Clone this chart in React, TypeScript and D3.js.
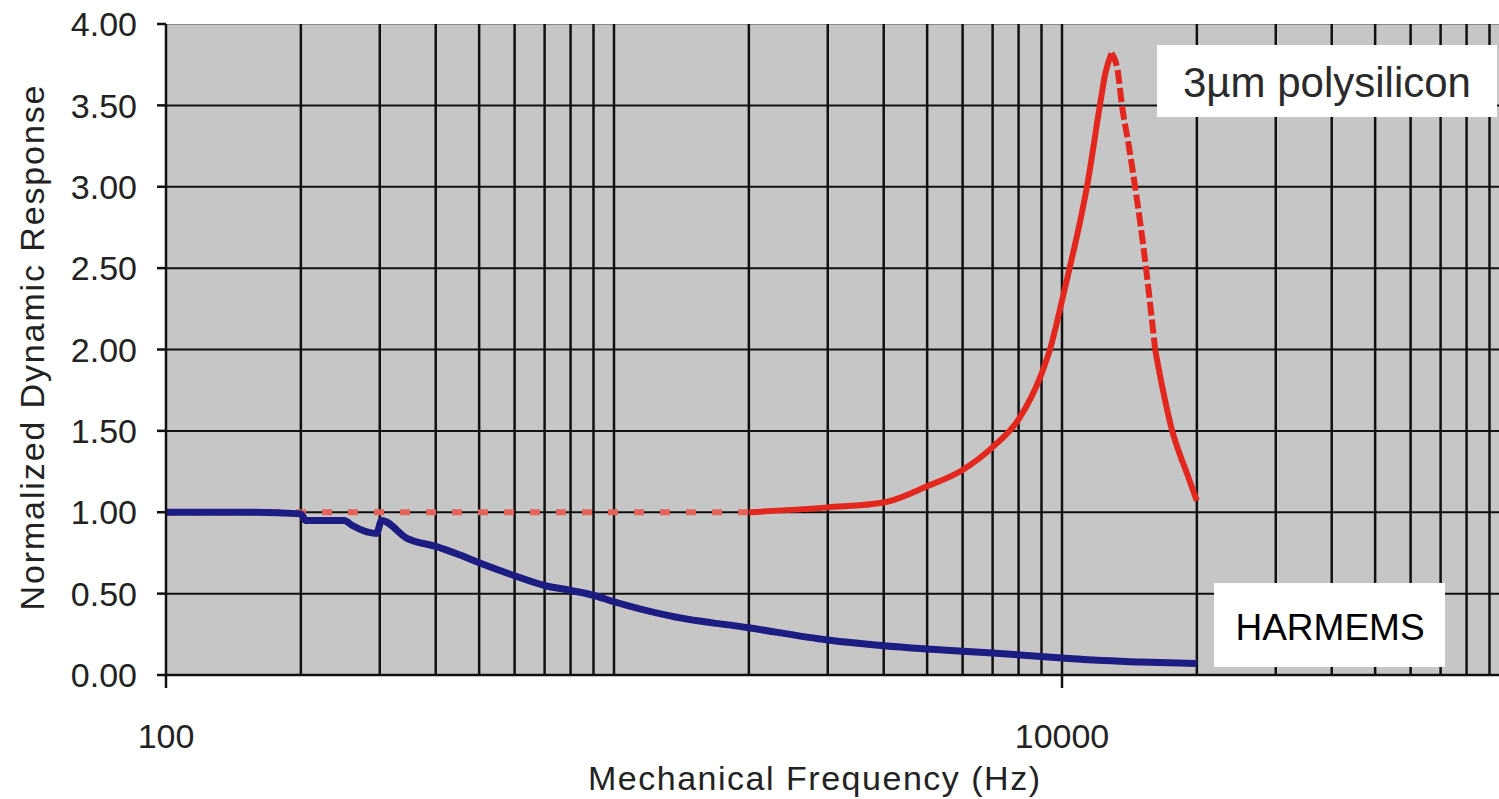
import React from "react";
import * as d3 from "d3";

// 3um polysilicon response (red)
const polyFreq = [100, 200, 500, 1000, 2000, 3000, 4000, 5000, 6000, 7000, 8000, 9000, 9400, 10000, 10400, 11000, 11370, 12150, 12500, 12900, 13300, 13610, 14100, 14560, 15000, 15400, 16140, 16800, 17620, 18300, 19000, 20000];
const polyResp = [1.0, 1.0, 1.0, 1.0, 1.0, 1.03, 1.06, 1.16, 1.26, 1.4, 1.57, 1.85, 2.0, 2.3, 2.5, 2.8, 3.0, 3.5, 3.7, 3.82, 3.72, 3.5, 3.25, 3.0, 2.75, 2.5, 2.0, 1.75, 1.5, 1.36, 1.24, 1.07];

// HARMEMS response (blue)
const harmFreq = [100, 150, 200, 205, 250, 260, 295, 303, 345, 400, 450, 500, 600, 700, 800, 900, 1000, 1350, 2000, 3000, 4000, 5000, 7000, 10000, 12000, 15000, 20000];
const harmResp = [1.0, 1.0, 0.99, 0.95, 0.95, 0.92, 0.87, 0.95, 0.84, 0.79, 0.74, 0.69, 0.61, 0.55, 0.52, 0.49, 0.45, 0.36, 0.29, 0.215, 0.18, 0.16, 0.135, 0.105, 0.09, 0.08, 0.07];

const yTicks = [0, 0.5, 1, 1.5, 2, 2.5, 3, 3.5, 4];
const yTickLabels = ["0.00", "0.50", "1.00", "1.50", "2.00", "2.50", "3.00", "3.50", "4.00"];
const xTicks = [100, 10000];
const xTickLabels = ["100", "10000"];

const width = 1499;
const height = 799;
const left = 166;
const top = 24;
const bottom = 675;
const font = "'Liberation Sans', Arial, sans-serif";

export default function App() {
  const x = d3.scaleLog().domain([100, 100000]).range([left, 1510]);
  const y = d3.scaleLinear().domain([0, 4]).range([bottom, top]);

  const poly = polyFreq.map((f, i) => ({ f, v: polyResp[i] }));
  const harm = harmFreq.map((f, i) => ({ f, v: harmResp[i] }));

  const line = d3
    .line<{ f: number; v: number }>()
    .x((d) => x(d.f))
    .y((d) => y(d.v))
    .curve(d3.curveMonotoneX);

  // red drawn in pieces: sparse (dashed) flat part, solid rise, sparse fall, solid tail
  const i2000 = polyFreq.indexOf(2000);
  const iPeak = polyFreq.indexOf(12900);
  const iFall = polyFreq.indexOf(16140);
  const polySegs = [
    { pts: poly.slice(0, i2000 + 1), dash: "10 16", color: "#e4625a" },
    { pts: poly.slice(i2000, iPeak + 1), dash: null, color: "#e2281e" },
    { pts: poly.slice(iPeak, iFall + 1), dash: "14 4", color: "#e2281e" },
    { pts: poly.slice(iFall), dash: null, color: "#e2281e" },
  ];

  const grid = x.ticks().filter((t) => t > 100);

  return (
    <svg
      width={width}
      height={height}
      style={{ position: "absolute", left: 0, top: 0, background: "#fff" }}
      fontFamily={font}
    >
      <defs>
        <clipPath id="plotClip">
          <rect x={left} y={top} width={width - left} height={bottom - top} />
        </clipPath>
      </defs>

      {/* plot area */}
      <rect x={left} y={top} width={width - left} height={bottom - top} fill="#c6c6c6" />
      <line x1={left} x2={width} y1={top + 0.5} y2={top + 0.5} stroke="#8a8a8a" strokeWidth={1} />

      {/* gridlines */}
      {yTicks
        .filter((t) => t > 0 && t < 4)
        .map((t) => (
          <line key={"h" + t} x1={left} x2={width} y1={y(t)} y2={y(t)} stroke="#111" strokeWidth={2} />
        ))}
      {grid.map((t) => (
        <line key={"v" + t} x1={x(t)} x2={x(t)} y1={top} y2={bottom} stroke="#111" strokeWidth={2.5} />
      ))}

      {/* series */}
      <g clipPath="url(#plotClip)">
        {polySegs.map((s, i) => (
          <path
            key={"p" + i}
            d={line(s.pts) || ""}
            fill="none"
            stroke={s.color}
            strokeWidth={6}
            strokeDasharray={s.dash || undefined}
          />
        ))}
        <path d={line(harm) || ""} fill="none" stroke="#1c1c82" strokeWidth={7} />
      </g>

      {/* axes */}
      <line x1={left} x2={width} y1={bottom} y2={bottom} stroke="#111" strokeWidth={2.5} />
      <line x1={left} x2={left} y1={top} y2={bottom} stroke="#111" strokeWidth={2.5} />
      {yTicks.map((t, i) => (
        <g key={"yt" + t}>
          <line x1={left - 9} x2={left} y1={y(t)} y2={y(t)} stroke="#111" strokeWidth={2.5} />
          <text x={137} y={y(t)} dy="0.36em" textAnchor="end" fontSize={34} fill="#222">
            {yTickLabels[i]}
          </text>
        </g>
      ))}
      {xTicks.map((t, i) => (
        <g key={"xt" + t}>
          <line x1={x(t)} x2={x(t)} y1={bottom} y2={bottom + 13} stroke="#111" strokeWidth={2.5} />
          <text x={x(t)} y={748} textAnchor="middle" fontSize={34} fill="#222">
            {xTickLabels[i]}
          </text>
        </g>
      ))}

      {/* axis titles */}
      <text x={814} y={790} textAnchor="middle" fontSize={34} fill="#222" textLength={452} lengthAdjust="spacing">
        Mechanical Frequency (Hz)
      </text>
      <text
        transform={`translate(44, 348) rotate(-90)`}
        textAnchor="middle"
        fontSize={34}
        fill="#222"
        textLength={525}
        lengthAdjust="spacing"
      >
        Normalized Dynamic Response
      </text>

      {/* series labels */}
      <rect x={1157} y={45} width={340} height={72} fill="#fff" />
      <text x={1327} y={97} textAnchor="middle" fontSize={42} fill="#2a2a2a">
        3µm polysilicon
      </text>
      <rect x={1214} y={583} width={231} height={84} fill="#fff" />
      <text x={1330} y={640} textAnchor="middle" fontSize={37} fill="#000">
        HARMEMS
      </text>
    </svg>
  );
}
